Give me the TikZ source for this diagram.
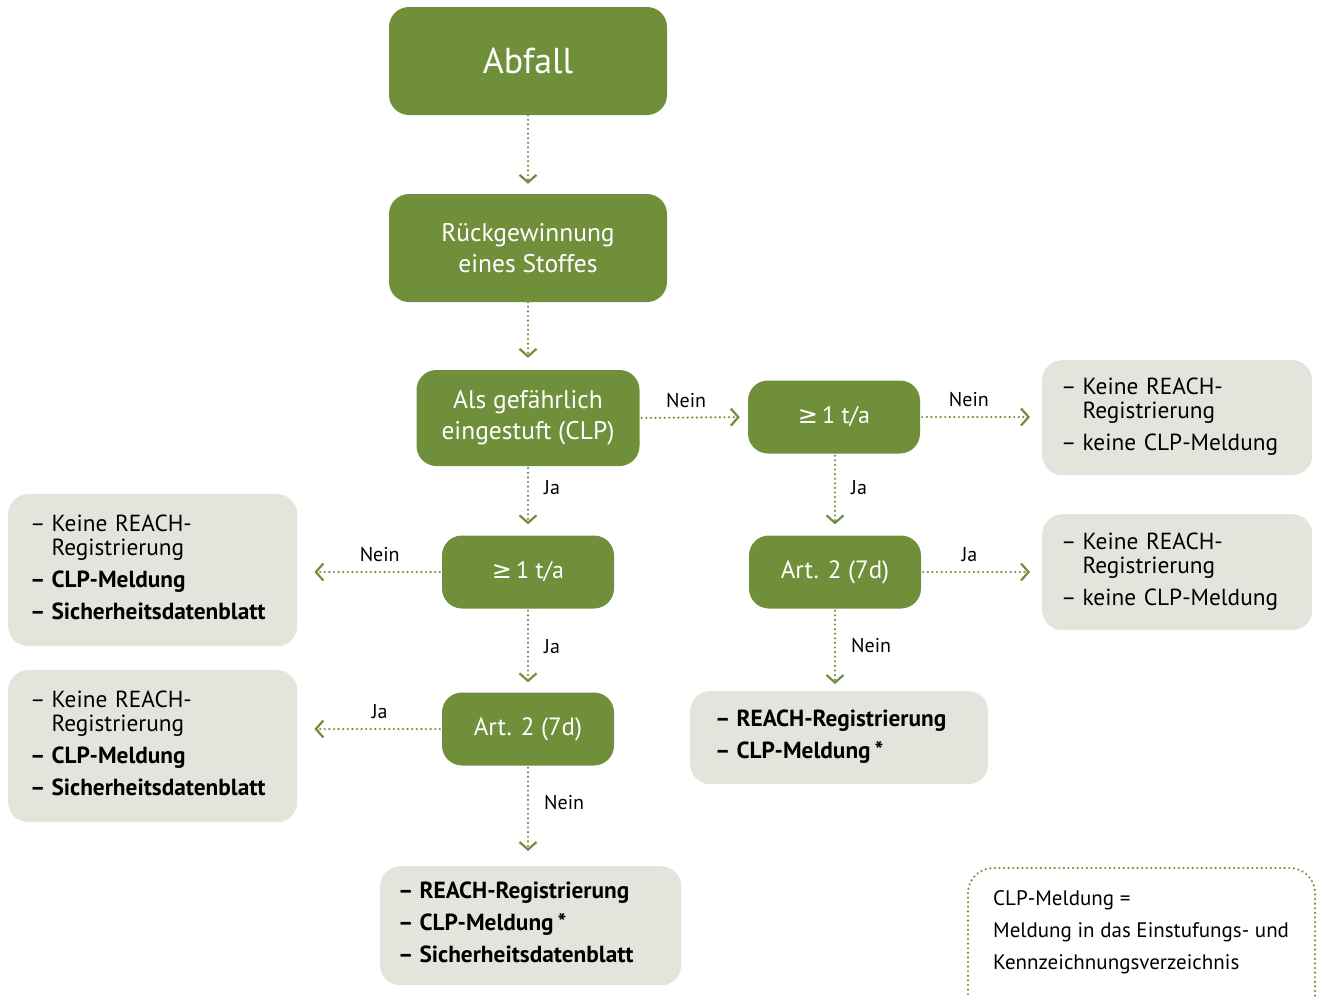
\documentclass[tikz,border=0pt]{standalone}
\usepackage{fontspec}
\setmainfont{PT Sans}
\newfontfamily\symf{DejaVu Sans}
\usetikzlibrary{arrows.meta}
\definecolor{grn}{HTML}{708F3A}
\definecolor{gry}{HTML}{E3E5DD}
\newcommand{\gesym}{{\symf ≥}}
\begin{document}
\begin{tikzpicture}[x=1pt,y=-1pt,
  gbox/.style={fill=grn, rounded corners=20pt, text=white, align=center, inner sep=0pt,
    font=\fontsize{25.5}{31}\selectfont},
  infobox/.style={fill=gry, rounded corners=20pt, text=black, align=left, inner ysep=0pt,
    anchor=north west, font=\fontsize{23.3}{24}\selectfont},
  arr/.style={draw=grn, line width=2.4pt, dash pattern=on 0pt off 4.6pt, line cap=round,
    -{Straight Barb[length=7.5pt,width=17pt,line width=2.2pt]}},
  lbl/.style={font=\fontsize{20}{22}\selectfont, text=black, inner sep=0pt}
]
\useasboundingbox (0,0) rectangle (1321,996);

% green nodes
\node[gbox, minimum width=278pt, minimum height=108pt, font=\fontsize{36}{40}\selectfont] (abf) at (528,61) {Abfall};
\node[gbox, minimum width=278pt, minimum height=108pt] (rck) at (528,248) {Rückgewinnung\\eines Stoffes};
\node[gbox, minimum width=223pt, minimum height=96pt] (als) at (528,418) {Als gefährlich\\eingestuft (CLP)};
\node[gbox, minimum width=172pt, minimum height=73pt, font=\fontsize{24}{30}\selectfont] (tR) at (834,417) {\gesym\,1 t/a};
\node[gbox, minimum width=172pt, minimum height=73pt, font=\fontsize{24}{30}\selectfont] (tM) at (528,572) {\gesym\,1 t/a};
\node[gbox, minimum width=172pt, minimum height=73pt, font=\fontsize{25}{30}\selectfont] (aR) at (835,572) {Art. 2 (7d)};
\node[gbox, minimum width=172pt, minimum height=73pt, font=\fontsize{25}{30}\selectfont] (aM) at (528,729) {Art. 2 (7d)};

% gray info boxes
\node[infobox, text width=232pt, inner xsep=19pt, minimum height=115pt] (gR1) at (1042,360)
  {\begin{tabular}{@{}l@{\hspace{6pt}}l@{}}–&Keine REACH-\\&Registrierung\\[8pt]–&keine CLP-Meldung\end{tabular}};
\node[infobox, text width=232pt, inner xsep=19pt, minimum height=116pt] (gR2) at (1042,514)
  {\begin{tabular}{@{}l@{\hspace{6pt}}l@{}}–&Keine REACH-\\&Registrierung\\[8pt]–&keine CLP-Meldung\end{tabular}};
\node[infobox, text width=245pt, inner xsep=22pt, minimum height=152pt] (gL1) at (8,494)
  {\begin{tabular}{@{}l@{\hspace{6pt}}l@{}}–&Keine REACH-\\&Registrierung\\[8pt]\textbf{–}&\textbf{CLP-Meldung}\\[8pt]\textbf{–}&\textbf{Sicherheitsdatenblatt}\end{tabular}};
\node[infobox, text width=245pt, inner xsep=22pt, minimum height=152pt] (gL2) at (8,670)
  {\begin{tabular}{@{}l@{\hspace{6pt}}l@{}}–&Keine REACH-\\&Registrierung\\[8pt]\textbf{–}&\textbf{CLP-Meldung}\\[8pt]\textbf{–}&\textbf{Sicherheitsdatenblatt}\end{tabular}};
\node[infobox, text width=248pt, inner xsep=25pt, minimum height=93pt] (gRe) at (690,691)
  {\begin{tabular}{@{}l@{\hspace{6pt}}l@{}}\textbf{–}&\textbf{REACH-Registrierung}\\[8pt]\textbf{–}&\textbf{CLP-Meldung}\,\textbf{*}\end{tabular}};
\node[infobox, text width=265pt, inner xsep=18pt, minimum height=119pt] (gB) at (380,866)
  {\begin{tabular}{@{}l@{\hspace{6pt}}l@{}}\textbf{–}&\textbf{REACH-Registrierung}\\[8pt]\textbf{–}&\textbf{CLP-Meldung}\,\textbf{*}\\[8pt]\textbf{–}&\textbf{Sicherheitsdatenblatt}\end{tabular}};

% footnote box
\begin{scope}
\clip (0,0) rectangle (1321,996);
\draw[draw=grn, line width=2.4pt, dash pattern=on 0pt off 4.6pt, line cap=round, rounded corners=25pt]
  (968,868) rectangle (1315,1030);
\end{scope}
\node[anchor=north west, align=left, inner sep=0pt, font=\fontsize{21}{32}\selectfont] (fn) at (993,890)
  {CLP-Meldung =\\Meldung in das Einstufungs- und\\Kennzeichnungsverzeichnis};

% connectors
\draw[arr, shorten >=10pt] (abf.south) -- (rck.north);
\draw[arr, shorten >=12pt] (rck.south) -- (als.north);
\draw[arr, shorten <=2pt, shorten >=8pt] (als.east) -- (tR.west) node[lbl, pos=0.43, above=9pt] {Nein};
\draw[arr, shorten <=2pt, shorten >=12pt] (tR.east) -- (gR1.west |- tR.east) node[lbl, pos=0.40, above=9pt] {Nein};
\draw[arr, shorten <=2pt, shorten >=11pt] (als.south) -- (tM.north) node[lbl, pos=0.31, right=15pt] {Ja};
\draw[arr, shorten <=2pt, shorten >=11pt] (tR.south -| aR.north) -- (aR.north) node[lbl, pos=0.41, right=15pt] {Ja};
\draw[arr, shorten <=2pt, shorten >=17pt] (tM.west) -- (gL1.east |- tM.west) node[lbl, pos=0.43, above=9pt] {Nein};
\draw[arr, shorten <=2pt, shorten >=12pt] (aR.east) -- (gR2.west |- aR.east) node[lbl, pos=0.40, above=9pt] {Ja};
\draw[arr, shorten <=2pt, shorten >=10pt] (tM.south) -- (aM.north) node[lbl, pos=0.45, right=15pt] {Ja};
\draw[arr, shorten <=2pt, shorten >=7pt] (aR.south) -- (aR.south |- gRe.north) node[lbl, pos=0.45, right=15pt] {Nein};
\draw[arr, shorten <=2pt, shorten >=17pt] (aM.west) -- (gL2.east |- aM.west) node[lbl, pos=0.43, above=9pt] {Ja};
\draw[arr, shorten <=2pt, shorten >=15pt] (aM.south) -- (aM.south |- gB.north) node[lbl, pos=0.37, right=15pt] {Nein};
\end{tikzpicture}
\end{document}
